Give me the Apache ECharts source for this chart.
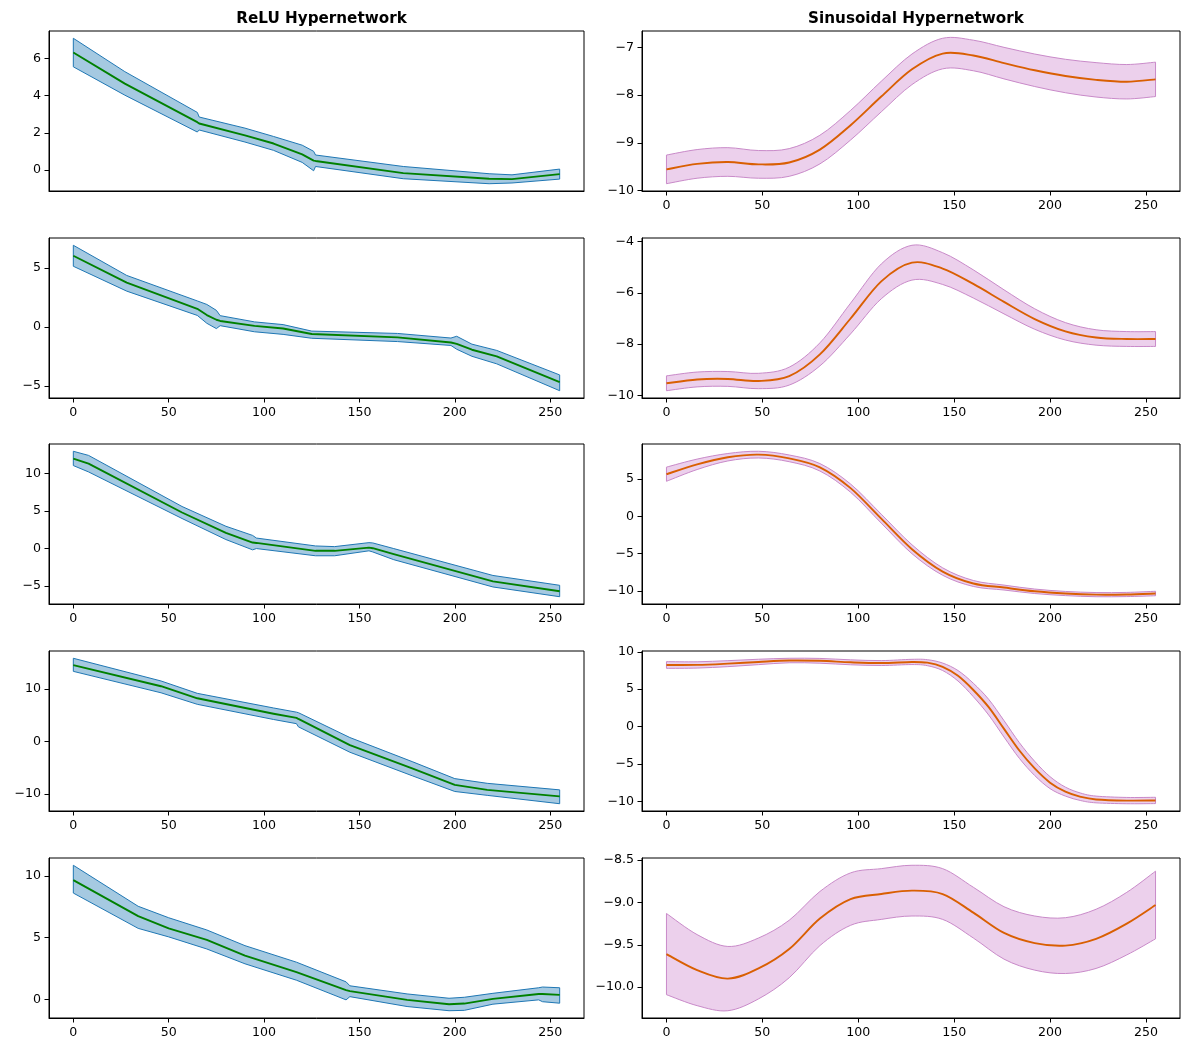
<!DOCTYPE html>
<html>
<head>
<meta charset="utf-8">
<script src="https://cdn.jsdelivr.net/npm/echarts@6/dist/echarts.min.js"></script>
<style>
html,body{margin:0;padding:0;background:#fff;}
#chart{width:1186px;height:1054px;}
</style>
</head>
<body>
<div id="chart"></div>
<script>
// ---------- data ----------
const xTicks = [0, 50, 100, 150, 200, 250];
const columnTitles = ['ReLU Hypernetwork', 'Sinusoidal Hypernetwork'];

const reluYTicks = [[0, 2, 4, 6], [-5, 0, 5], [-5, 0, 5, 10], [-10, 0, 10], [0, 5, 10]];
const sinYTicks = [[-10, -9, -8, -7], [-10, -8, -6, -4], [-10, -5, 0, 5], [-10, -5, 0, 5, 10], [-10, -9.5, -9, -8.5]];

// ReLU hypernetwork: x, mean, lower, upper
const relu1X    = [0, 27, 65, 66, 90, 105, 120, 126, 127, 173, 218, 230, 255];
const relu1Mean = [6.33, 4.65, 2.57, 2.5, 1.86, 1.42, 0.83, 0.5, 0.48, -0.18, -0.48, -0.5, -0.23];
const relu1Hi   = [7.1, 5.3, 3.1, 2.85, 2.25, 1.8, 1.33, 1.0, 0.8, 0.18, -0.21, -0.27, 0.04];
const relu1Lo   = [5.56, 4.03, 2.04, 2.15, 1.5, 1.05, 0.4, -0.05, 0.18, -0.48, -0.75, -0.71, -0.5];

const relu2X    = [0, 28, 65, 70, 75, 77, 95, 110, 125, 170, 198, 201, 209, 222, 255];
const relu2Mean = [6.03, 3.75, 1.53, 1.0, 0.6, 0.5, 0.08, -0.14, -0.61, -0.89, -1.33, -1.45, -1.94, -2.5, -4.69];
const relu2Hi   = [6.92, 4.36, 2.2, 1.9, 1.4, 0.95, 0.42, 0.19, -0.36, -0.56, -0.95, -0.8, -1.47, -2.0, -4.08];
const relu2Lo   = [5.14, 3.03, 0.97, 0.3, -0.15, 0.1, -0.42, -0.64, -0.97, -1.25, -1.58, -1.9, -2.5, -3.14, -5.42];

const relu3X    = [0, 8, 57, 80, 94, 96, 127, 137, 155, 157, 168, 220, 255];
const relu3Mean = [11.96, 11.3, 4.8, 2.1, 0.8, 0.75, -0.3, -0.3, 0.13, 0.05, -0.74, -4.37, -5.68];
const relu3Hi   = [12.95, 12.4, 5.6, 2.97, 1.75, 1.4, 0.35, 0.26, 0.79, 0.75, 0.0, -3.58, -4.89];
const relu3Lo   = [11.05, 10.2, 4.0, 1.2, -0.17, 0.0, -0.96, -0.96, -0.3, -0.45, -1.48, -5.11, -6.41];

const relu4X    = [0, 46, 65, 105, 117, 118, 145, 178, 200, 217, 255];
const relu4Mean = [14.6, 10.56, 8.25, 5.3, 4.5, 4.3, -0.7, -5.2, -8.3, -9.25, -10.5];
const relu4Hi   = [15.9, 11.56, 9.2, 6.4, 5.6, 5.5, 0.75, -3.9, -7.1, -8.0, -9.25];
const relu4Lo   = [13.4, 9.3, 7.1, 4.2, 3.4, 2.8, -2.06, -6.6, -9.56, -10.3, -11.9];

const relu5X    = [0, 34, 50, 70, 90, 117, 143, 145, 175, 197, 205, 220, 244, 246, 255];
const relu5Mean = [9.65, 6.73, 5.74, 4.81, 3.54, 2.2, 0.74, 0.66, -0.05, -0.4, -0.35, 0.03, 0.43, 0.43, 0.35];
const relu5Hi   = [10.85, 7.53, 6.6, 5.61, 4.34, 3.0, 1.41, 1.09, 0.43, 0.08, 0.16, 0.48, 0.93, 0.99, 0.93];
const relu5Lo   = [8.6, 5.74, 5.05, 4.07, 2.87, 1.54, -0.05, 0.21, -0.59, -0.93, -0.9, -0.4, -0.05, -0.2, -0.32];

// Sinusoidal hypernetwork: x, mean, band half-width
const sin1X    = [0, 16, 32, 48, 64, 80, 96, 112, 128, 144, 160, 176, 192, 208, 224, 240, 255];
const sin1Mean = [-9.555, -9.44, -9.40, -9.45, -9.41, -9.14, -8.63, -8.03, -7.46, -7.13, -7.17, -7.33, -7.48, -7.60, -7.68, -7.72, -7.67];
const sin1Sd   = [0.30, 0.30, 0.30, 0.29, 0.29, 0.30, 0.31, 0.32, 0.32, 0.32, 0.32, 0.33, 0.34, 0.35, 0.36, 0.36, 0.36];

const sin2X    = [0, 16, 32, 48, 64, 80, 96, 112, 128, 144, 160, 176, 192, 208, 224, 240, 255];
const sin2Mean = [-9.53, -9.38, -9.36, -9.44, -9.25, -8.4, -7.0, -5.55, -4.82, -5.05, -5.65, -6.35, -7.02, -7.5, -7.74, -7.80, -7.80];
const sin2Sd   = [0.29, 0.29, 0.29, 0.30, 0.35, 0.45, 0.60, 0.68, 0.68, 0.62, 0.55, 0.47, 0.40, 0.34, 0.30, 0.29, 0.29];

const sin3X    = [0, 16, 32, 48, 64, 80, 96, 112, 128, 144, 160, 176, 192, 208, 224, 240, 255];
const sin3Mean = [5.67, 7.0, 7.95, 8.3, 7.8, 6.6, 3.8, -0.3, -4.4, -7.4, -9.0, -9.55, -10.05, -10.35, -10.5, -10.48, -10.35];
const sin3Sd   = [0.95, 0.70, 0.50, 0.45, 0.45, 0.50, 0.55, 0.60, 0.60, 0.50, 0.40, 0.33, 0.30, 0.28, 0.28, 0.28, 0.30];

const sin4X    = [0, 16, 32, 48, 64, 80, 96, 112, 128, 136, 144, 152, 160, 168, 176, 184, 192, 200, 208, 216, 224, 240, 255];
const sin4Mean = [8.24, 8.25, 8.42, 8.65, 8.84, 8.8, 8.6, 8.5, 8.65, 8.55, 8.0, 6.8, 4.9, 2.6, -0.3, -3.2, -5.6, -7.5, -8.7, -9.4, -9.75, -9.9, -9.88];
const sin4Sd   = [0.45, 0.42, 0.40, 0.36, 0.30, 0.32, 0.33, 0.33, 0.35, 0.40, 0.50, 0.70, 0.90, 1.05, 1.10, 1.05, 0.95, 0.80, 0.60, 0.50, 0.45, 0.42, 0.42];

const sin5X    = [0, 16, 32, 48, 64, 80, 96, 112, 128, 144, 160, 176, 192, 208, 224, 240, 255];
const sin5Mean = [-9.61, -9.80, -9.90, -9.78, -9.55, -9.19, -8.96, -8.9, -8.86, -8.90, -9.12, -9.36, -9.48, -9.51, -9.43, -9.25, -9.03];
const sin5Sd   = [0.48, 0.42, 0.38, 0.36, 0.34, 0.32, 0.31, 0.30, 0.30, 0.30, 0.30, 0.31, 0.32, 0.33, 0.35, 0.37, 0.40];

// ---------- build ----------
const reluPanels = [
  [relu1X, relu1Mean, relu1Lo, relu1Hi],
  [relu2X, relu2Mean, relu2Lo, relu2Hi],
  [relu3X, relu3Mean, relu3Lo, relu3Hi],
  [relu4X, relu4Mean, relu4Lo, relu4Hi],
  [relu5X, relu5Mean, relu5Lo, relu5Hi]
];
const sinPanels = [
  [sin1X, sin1Mean, sin1Sd],
  [sin2X, sin2Mean, sin2Sd],
  [sin3X, sin3Mean, sin3Sd],
  [sin4X, sin4Mean, sin4Sd],
  [sin5X, sin5Mean, sin5Sd]
].map(([x, m, s]) => [x, m, m.map((v, i) => v - s[i]), m.map((v, i) => v + s[i])]);

const FONT = 'DejaVu Sans';
const TICK_FS = 12.6;
const colLeft = [49, 642];
const colWidth = [535, 538];
const rowTop = [31, 238, 444, 651, 858];
const rowH = 160;

const styles = [
  { line: '#008000', edge: '#1f77b4', fill: '#a5c9e1', smooth: false },
  { line: '#d95f02', edge: '#c98ac9', fill: '#ecd0ec', smooth: true }
];

function fmt(v, dec) {
  const s = dec ? Math.abs(v).toFixed(dec) : String(Math.abs(v));
  return (v < 0 ? '\u2212' : '') + s;
}

// path through screen points: straight or Catmull-Rom
function pathThrough(P, smooth, moveFirst) {
  let d = (moveFirst ? 'M' : 'L') + P[0][0] + ' ' + P[0][1];
  const n = P.length;
  for (let i = 0; i < n - 1; i++) {
    const p1 = P[i], p2 = P[i + 1];
    if (!smooth) { d += ' L' + p2[0] + ' ' + p2[1]; continue; }
    const p0 = P[Math.max(i - 1, 0)], p3 = P[Math.min(i + 2, n - 1)];
    const c1 = [p1[0] + (p2[0] - p0[0]) / 6, p1[1] + (p2[1] - p0[1]) / 6];
    const c2 = [p2[0] - (p3[0] - p1[0]) / 6, p2[1] - (p3[1] - p1[1]) / 6];
    d += ' C' + c1[0] + ' ' + c1[1] + ' ' + c2[0] + ' ' + c2[1] + ' ' + p2[0] + ' ' + p2[1];
  }
  return d;
}

const grids = [], xAxes = [], yAxes = [], series = [];
let k = 0;
for (let r = 0; r < 5; r++) {
  for (let c = 0; c < 2; c++) {
    const [x, mean, lo, hi] = c === 0 ? reluPanels[r] : sinPanels[r];
    const ticks = c === 0 ? reluYTicks[r] : sinYTicks[r];
    const st = styles[c];
    const dec = (c === 1 && r === 4) ? 1 : 0;
    const dmin = Math.min(...lo), dmax = Math.max(...hi);
    const pad = (dmax - dmin) * 0.05;
    grids.push({ left: colLeft[c], width: colWidth[c], top: rowTop[r], height: rowH,
      show: true, borderColor: '#000', borderWidth: 1, backgroundColor: 'transparent' });
    const hideX = (r === 0 && c === 0);
    xAxes.push({
      gridIndex: k, type: 'value', min: -12.75, max: 267.75,
      splitLine: { show: false },
      axisLine: { show: true, onZero: false, lineStyle: { color: '#000', width: 1 } },
      axisTick: { show: !hideX, length: 4.5, customValues: xTicks, lineStyle: { color: '#000', width: 1 } },
      axisLabel: { show: !hideX, customValues: xTicks, color: '#000', fontFamily: FONT, fontSize: TICK_FS, margin: 8,
        formatter: v => fmt(v, 0) }
    });
    yAxes.push({
      gridIndex: k, type: 'value', min: dmin - pad, max: dmax + pad,
      splitLine: { show: false },
      axisLine: { show: true, onZero: false, lineStyle: { color: '#000', width: 1 } },
      axisTick: { show: true, length: 4.5, customValues: ticks, lineStyle: { color: '#000', width: 1 } },
      axisLabel: { customValues: ticks, color: '#000', fontFamily: FONT, fontSize: TICK_FS, margin: 8,
        formatter: v => fmt(v, dec) }
    });
    const rows = x.map((xv, j) => [xv, mean[j], lo[j], hi[j]]);
    series.push({
      type: 'custom', xAxisIndex: k, yAxisIndex: k, silent: true, animation: false, z: 2,
      data: rows,
      encode: { x: 0, y: [1, 2, 3] },
      renderItem: (params, api) => {
        if (params.dataIndex !== 0) return null;
        const U = rows.map(d => api.coord([d[0], d[3]]));
        const L = rows.map(d => api.coord([d[0], d[2]])).reverse();
        const M = rows.map(d => api.coord([d[0], d[1]]));
        const band = pathThrough(U, st.smooth, true) + ' ' + pathThrough(L, st.smooth, false) + ' Z';
        return {
          type: 'group',
          children: [
            { type: 'path', shape: { pathData: band },
              style: { fill: st.fill, stroke: st.edge, lineWidth: 1 } },
            { type: 'path', shape: { pathData: pathThrough(M, st.smooth, true) },
              style: { fill: 'none', stroke: st.line, lineWidth: 1.9, lineJoin: 'round' } }
          ]
        };
      }
    });
    k++;
  }
}

const titles = columnTitles.map((t, c) => ({
  text: t, left: colLeft[c] + colWidth[c] / 2, top: 7, textAlign: 'center',
  textStyle: { fontFamily: FONT, fontWeight: 'bold', fontSize: 15.2, color: '#000' }
}));

const chart = echarts.init(document.getElementById('chart'), null, { renderer: 'canvas' });
chart.setOption({
  animation: false,
  backgroundColor: '#fff',
  title: titles,
  grid: grids,
  xAxis: xAxes,
  yAxis: yAxes,
  series: series
});
</script>
</body>
</html>
